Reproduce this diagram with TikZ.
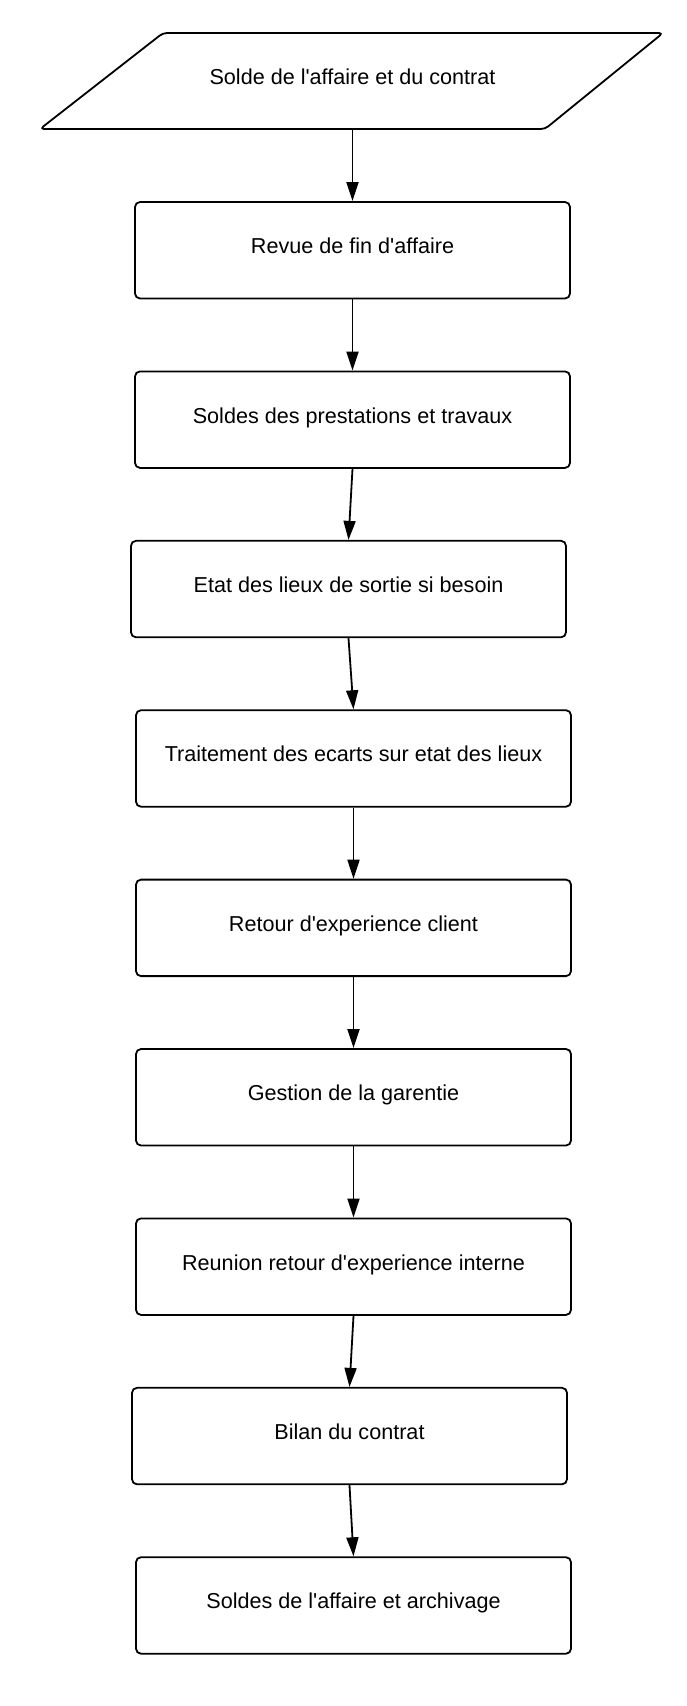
\documentclass[tikz,border=0pt]{standalone}
\usepackage{fontspec}
\setmainfont{Liberation Sans}
\usetikzlibrary{arrows.meta}
\newcommand{\apo}{\textquotesingle}
\begin{document}
\begin{tikzpicture}[x=1pt,y=-1pt,
  txt/.style={font=\fontsize{21.6}{26}\selectfont, text height=15.5pt, text depth=8.5pt, inner sep=0pt},
  stepbox/.style={txt, draw, line width=1.8pt, rounded corners=5pt, minimum width=435pt, minimum height=96.5pt},
  conn/.style={line width=1.8pt, -{Triangle[length=19pt,width=12pt]}}]
\useasboundingbox (0,0) rectangle (686,1706);
% start parallelogram
\draw[line width=1.8pt, rounded corners=4pt, line join=round] (163,33) -- (663,33) -- (545,129) -- (40,129) -- cycle;
\node[txt, minimum width=200pt, minimum height=96pt] (p) at (352.5,81) {Solde de l\apo affaire et du contrat};
\node[stepbox] (b1) at (352.5,250.25) {Revue de fin d\apo affaire};
\node[stepbox] (b2) at (352.5,419.65) {Soldes des prestations et travaux};
\node[stepbox] (b3) at (348.5,589.05) {Etat des lieux de sortie si besoin};
\node[stepbox] (b4) at (353.5,758.45) {Traitement des ecarts sur etat des lieux};
\node[stepbox] (b5) at (353.5,927.85) {Retour d\apo experience client};
\node[stepbox] (b6) at (353.5,1097.25) {Gestion de la garentie};
\node[stepbox] (b7) at (353.5,1266.65) {Reunion retour d\apo experience interne};
\node[stepbox] (b8) at (349.5,1436.05) {Bilan du contrat};
\node[stepbox] (b9) at (353.5,1605.45) {Soldes de l\apo affaire et archivage};
\draw[conn] (p.south) -- (b1.north);
\draw[conn] (b1.south) -- (b2.north);
\draw[conn] (b2.south) -- (b3.north);
\draw[conn] (b3.south) -- (b4.north);
\draw[conn] (b4.south) -- (b5.north);
\draw[conn] (b5.south) -- (b6.north);
\draw[conn] (b6.south) -- (b7.north);
\draw[conn] (b7.south) -- (b8.north);
\draw[conn] (b8.south) -- (b9.north);
\end{tikzpicture}
\end{document}
